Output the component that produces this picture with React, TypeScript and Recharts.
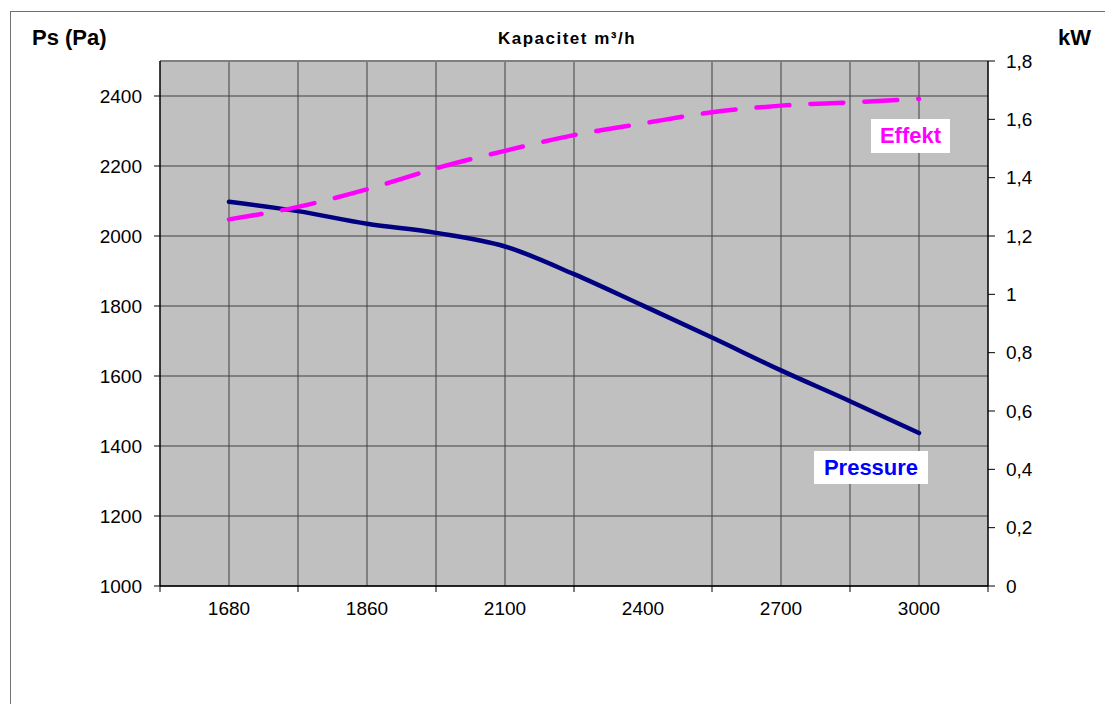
import { LineChart, Line, XAxis, YAxis, CartesianGrid, ReferenceLine } from "recharts";

// capacity categories (m³/h), one label per category slot
const capacity = ["1680", "1860", "2100", "2400", "2700", "3000"];

// positions along the category axis where the curves were read (0 = 1680 ... 5 = 3000)
const pointPos = [0, 0.5, 1, 1.5, 2, 2.5, 3, 3.5, 4, 4.5, 5];
const pressure = [2098, 2071, 2035, 2009, 1970, 1891, 1801, 1710, 1616, 1528, 1437];
const effekt = [1.257, 1.3, 1.36, 1.432, 1.492, 1.546, 1.586, 1.624, 1.647, 1.658, 1.67];

// axis ticks
const xTicks = [-0.5, 0, 0.5, 1, 1.5, 2, 2.5, 3, 3.5, 4, 4.5, 5, 5.5];
const gridX = [0, 0.5, 1, 1.5, 2, 2.5, 3.5, 4, 4.5, 5];
const paTicks = [1000, 1200, 1400, 1600, 1800, 2000, 2200, 2400];
const kwTicks = [0, 0.2, 0.4, 0.6, 0.8, 1, 1.2, 1.4, 1.6, 1.8];

const data = pointPos.map((pos, i) => ({ pos, pressure: pressure[i], effekt: effekt[i] }));

const FONT = "'Liberation Sans', Arial, sans-serif";

function CapTick(props: any) {
	const { x, y, payload } = props;
	const v = payload.value;
	if (Number.isInteger(v)) {
		return (
			<text x={x} y={y} dy="0.71em" textAnchor="middle" fontSize={19} fill="#000">
				{capacity[v]}
			</text>
		);
	}
	const axisY = y - 16;
	return <line x1={x} x2={x} y1={axisY} y2={axisY + 6} stroke="#000" strokeWidth={1} />;
}

export default function App() {
	return (
		<div style={{ position: "relative", width: 1105, height: 696, overflow: "hidden", fontFamily: FONT }}>
			<div style={{ position: "absolute", left: 2, top: 3, width: 1200, height: 800, borderLeft: "1px solid #707070", borderTop: "1px solid #707070" }} />
			<div style={{ position: "absolute", left: 0, top: 0 }}>
				<LineChart width={1105} height={696} data={data} margin={{ top: 53, right: 65, left: 92, bottom: 78 }}>
					<CartesianGrid yAxisId="pa" vertical={false} fill="#C0C0C0" stroke="#404040" strokeOpacity={1} />
					<XAxis
						type="number"
						dataKey="pos"
						domain={[-0.5, 5.5]}
						ticks={xTicks}
						interval={0}
						tick={<CapTick />}
						tickLine={false}
						tickSize={6}
						tickMargin={10}
						height={40}
						axisLine={{ stroke: "#000", strokeWidth: 1.5 }}
						allowDataOverflow
					/>
					<YAxis
						yAxisId="pa"
						domain={[1000, 2500]}
						ticks={paTicks}
						interval={0}
						width={60}
						tickSize={6}
						tickMargin={12}
						tick={{ fontSize: 19, fill: "#000" }}
						tickLine={{ stroke: "#000" }}
						axisLine={{ stroke: "#000", strokeWidth: 1.5 }}
						allowDataOverflow
					/>
					<YAxis
						yAxisId="kw"
						orientation="right"
						domain={[0, 1.8]}
						ticks={kwTicks}
						interval={0}
						width={60}
						tickSize={7}
						tickMargin={11}
						tick={{ fontSize: 19, fill: "#000" }}
						tickLine={{ stroke: "#000" }}
						axisLine={{ stroke: "#000", strokeWidth: 1.5 }}
						tickFormatter={(v: number) => String(v).replace(".", ",")}
						allowDataOverflow
					/>
					{gridX.map((g) => (
						<ReferenceLine key={g} x={g} yAxisId="pa" stroke="#404040" strokeWidth={1} />
					))}
					<ReferenceLine y={2500} yAxisId="pa" stroke="#808080" strokeWidth={2} />
					<Line
						yAxisId="pa"
						type="monotone"
						dataKey="pressure"
						stroke="#000080"
						strokeWidth={4.5}
						strokeLinecap="round"
						dot={false}
						isAnimationActive={false}
					/>
					<Line
						yAxisId="kw"
						type="monotone"
						dataKey="effekt"
						stroke="#FF00FF"
						strokeWidth={4.5}
						strokeDasharray="33 21"
						strokeLinecap="round"
						dot={false}
						isAnimationActive={false}
					/>
				</LineChart>
			</div>
			<div style={{ position: "absolute", left: 24, top: 19, fontSize: 22, lineHeight: "22px", fontWeight: "bold", whiteSpace: "nowrap" }}>
				Ps (Pa)
			</div>
			<div style={{ position: "absolute", left: 1050, top: 19, fontSize: 22, lineHeight: "22px", fontWeight: "bold", whiteSpace: "nowrap" }}>
				kW
			</div>
			<div style={{ position: "absolute", left: 559, top: 22, transform: "translateX(-50%)", fontSize: 17, lineHeight: "17px", fontWeight: "bold", letterSpacing: 1.5, whiteSpace: "nowrap" }}>
				Kapacitet m³/h
			</div>
			<div style={{ position: "absolute", left: 863, top: 111, width: 79, height: 34, background: "#fff", color: "#FF00FF", fontSize: 22, fontWeight: "bold", display: "flex", alignItems: "center", justifyContent: "center" }}>
				Effekt
			</div>
			<div style={{ position: "absolute", left: 806, top: 443, width: 114, height: 33, background: "#fff", color: "#0000FF", fontSize: 22, fontWeight: "bold", display: "flex", alignItems: "center", justifyContent: "center" }}>
				Pressure
			</div>
		</div>
	);
}
